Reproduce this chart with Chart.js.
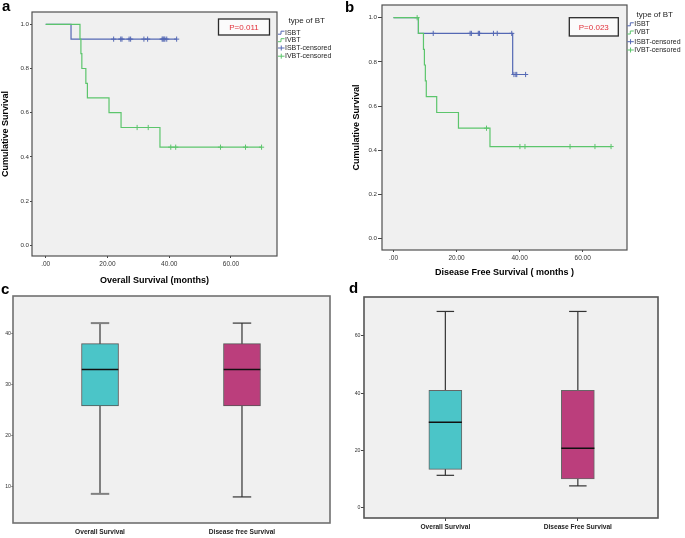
<!DOCTYPE html>
<html><head><meta charset="utf-8">
<script src="https://cdn.jsdelivr.net/npm/chart.js@4.4.1/dist/chart.umd.min.js"></script>
<style>
html,body{margin:0;padding:0;background:#fff;width:685px;height:538px;overflow:hidden;position:relative}
canvas{position:absolute}
.lbl{position:absolute;font-weight:bold;font-family:"Liberation Sans",Arial,sans-serif;font-size:15px;line-height:15px;color:#000}
</style></head><body>
<canvas id="ca" width="340" height="292" style="left:0;top:0"></canvas>
<canvas id="cb" width="345" height="282" style="left:340px;top:0"></canvas>
<canvas id="cc" width="340" height="262" style="left:0;top:276px"></canvas>
<canvas id="cd" width="345" height="262" style="left:340px;top:276px"></canvas>
<div class="lbl" style="left:2px;top:-2px">a</div>
<div class="lbl" style="left:345px;top:-1px">b</div>
<div class="lbl" style="left:1px;top:281px">c</div>
<div class="lbl" style="left:349px;top:280px">d</div>
<script>
// ---------- DATA ----------
// Kaplan-Meier tick labels
const kmXTicks = [0, 20, 40, 60];
const kmYTicks = [0, 0.2, 0.4, 0.6, 0.8, 1.0];
const legendLabels = ['ISBT', 'IVBT', 'ISBT-censored', 'IVBT-censored'];

// Panel a: Overall survival (months)
const a_isbtTime = [0, 8.2, 42.4];
const a_isbtSurv = [1, 0.933, 0.933];
const a_isbtCens = [22.0, 24.3, 24.7, 27.0, 27.5, 31.8, 33.0, 37.7, 38.0, 38.3, 38.6, 39.2, 42.4];
const a_ivbtTime = [0, 11.1, 11.4, 11.7, 13.0, 13.5, 20.5, 24.4, 37.0, 69.9];
const a_ivbtSurv = [1, 0.933, 0.867, 0.8, 0.733, 0.667, 0.6, 0.533, 0.444, 0.444];
const a_ivbtCens = [29.6, 33.2, 40.5, 42.1, 56.6, 64.7, 69.9];
const a_pValue = 'P=0.011';

// Panel b: Disease free survival (months)
const b_isbtTime = [0, 7.9, 37.8, 41.9];
const b_isbtSurv = [1, 0.929, 0.743, 0.743];
const b_isbtCens = [12.6, 24.3, 24.7, 26.9, 27.3, 31.7, 32.9, 37.5, 38.2, 38.8, 39.1, 41.9];
const b_ivbtTime = [0, 7.9, 9.5, 9.8, 10.1, 10.4, 13.7, 20.6, 30.6, 69.0];
const b_ivbtSurv = [1, 0.929, 0.857, 0.786, 0.714, 0.643, 0.571, 0.5, 0.417, 0.417];
const b_ivbtCens = [7.5, 29.5, 40.1, 41.7, 56.0, 63.9, 69.0];
const b_pValue = 'P=0.023';

// Panel c: box plot (Overall Survival months)
const c_cats = ['Overall Survival', 'Disease free Survival'];
const c_min = [8.6, 8.0];
const c_q1  = [25.8, 25.8];
const c_med = [32.9, 32.9];
const c_q3  = [38.0, 38.0];
const c_max = [42.0, 42.0];
const c_yTicks = [10, 20, 30, 40];

// Panel d: box plot (Disease Free Survival months)
const d_cats = ['Overall Survival', 'Disease Free Survival'];
const d_min = [11.2, 7.5];
const d_q1  = [13.3, 9.9];
const d_med = [29.8, 20.7];
const d_q3  = [41.0, 41.0];
const d_max = [68.6, 68.6];
const d_yTicks = [0, 20, 40, 60];

// ---------- STYLE / HELPERS ----------
const FONT = '"Liberation Sans", Arial, sans-serif';
Chart.defaults.font.family = FONT;
Chart.defaults.animation = false;
const BLUE = '#5468b4', GREEN = '#5cc56c';
const TEAL = '#4bc5c8', MAGENTA = '#bb3e7c';

function survAt(t, times, survs){ let s = survs[0]; for (let i=0;i<times.length;i++){ if (times[i] <= t) s = survs[i]; } return s; }
function stepDS(times, survs, color){
  return {data: times.map((t,i)=>({x:t,y:survs[i]})), borderColor:color, borderWidth:1.2, stepped:true, pointRadius:0, fill:false};
}
function censDS(cens, times, survs, color){
  return {data: cens.map(t=>({x:t,y:survAt(t,times,survs)})), showLine:false, pointStyle:'cross', pointRadius:2.6, borderColor:color, backgroundColor:color, borderWidth:1};
}

const framePlugin = {
  id:'frame',
  beforeDraw(chart, args, o){
    const {ctx, chartArea:a} = chart; ctx.save();
    ctx.fillStyle = o.bg; ctx.fillRect(a.left, a.top, a.right-a.left, a.bottom-a.top); ctx.restore();
  },
  afterDraw(chart, args, o){
    const {ctx, chartArea:a} = chart; ctx.save();
    ctx.strokeStyle = o.color; ctx.lineWidth = o.width;
    ctx.strokeRect(a.left, a.top, a.right-a.left, a.bottom-a.top); ctx.restore();
  }
};

const kmExtras = {
  id:'kmExtras',
  afterDraw(chart, args, o){
    const ctx = chart.ctx; ctx.save();
    const b = o.box;
    ctx.fillStyle = '#fbfbfb'; ctx.fillRect(b[0], b[1], b[2], b[3]);
    ctx.strokeStyle = '#2b2b2b'; ctx.lineWidth = 1.3; ctx.strokeRect(b[0], b[1], b[2], b[3]);
    ctx.fillStyle = '#e2313b'; ctx.font = '8px ' + FONT; ctx.textAlign = 'center'; ctx.textBaseline = 'middle';
    ctx.fillText(o.pText, b[0] + b[2]/2, b[1] + b[3]/2 + 0.5);
    const L = o.legend;
    ctx.fillStyle = '#222'; ctx.font = '8px ' + FONT;
    ctx.fillText('type of BT', L.titleX, L.titleY);
    ctx.textAlign = 'left'; ctx.font = '7px ' + FONT;
    legendLabels.forEach((lab, i) => {
      const y = L.ys[i], x = L.x, color = i % 2 === 0 ? BLUE : GREEN;
      ctx.strokeStyle = color; ctx.lineWidth = 1; ctx.beginPath();
      if (i < 2){ ctx.moveTo(x, y+1.5); ctx.lineTo(x+3, y+1.5); ctx.lineTo(x+3, y-1.5); ctx.lineTo(x+6.5, y-1.5); }
      else { ctx.moveTo(x, y); ctx.lineTo(x+6.5, y); ctx.moveTo(x+3.25, y-2.5); ctx.lineTo(x+3.25, y+2.5); }
      ctx.stroke();
      ctx.fillStyle = '#222'; ctx.fillText(lab, x+7, y);
    });
    ctx.restore();
  }
};

function kmChart(id, d){
  return new Chart(document.getElementById(id), {
    type:'line',
    data:{datasets:[
      censDS(d.ivbtCens, d.ivbtTime, d.ivbtSurv, GREEN),
      censDS(d.isbtCens, d.isbtTime, d.isbtSurv, BLUE),
      stepDS(d.ivbtTime, d.ivbtSurv, GREEN),
      stepDS(d.isbtTime, d.isbtSurv, BLUE)
    ]},
    options:{
      responsive:false, animation:false,
      layout:{padding:d.pad},
      plugins:{legend:{display:false}, tooltip:{enabled:false},
        frame:{bg:'#f0f0f0', color:'#505050', width:1.2},
        kmExtras:{box:d.box, pText:d.pText, legend:d.legend}},
      scales:{
        x:{type:'linear', min:d.xr[0], max:d.xr[1],
          afterBuildTicks:s=>{ s.ticks = kmXTicks.map(v=>({value:v})); },
          afterFit:s=>{ s.height = d.xH; },
          ticks:{callback:v=> v===0 ? '.00' : v.toFixed(2), font:{size:6.5}, color:'#333', padding:2, maxRotation:0, autoSkip:false},
          grid:{drawOnChartArea:false, drawTicks:true, tickLength:2, color:'#444'},
          border:{display:false},
          title:{display:true, text:d.xTitle, font:{size:9, weight:'bold'}, color:'#000', padding:{top:0, bottom:d.xTitlePad}}
        },
        y:{type:'linear', min:d.yr[0], max:d.yr[1],
          afterBuildTicks:s=>{ s.ticks = kmYTicks.map(v=>({value:v})); },
          afterFit:s=>{ s.width = d.yW; },
          ticks:{callback:v=>v.toFixed(1), font:{size:6.2}, color:'#333', padding:1, autoSkip:false},
          grid:{drawOnChartArea:false, drawTicks:true, tickLength:d.yTick, color:'#444'},
          border:{display:false},
          title:{display:true, text:'Cumulative Survival', font:{size:9, weight:'bold'}, color:'#000', padding:{top:d.yTitlePad, bottom:0}}
        }
      }
    },
    plugins:[framePlugin, kmExtras]
  });
}

kmChart('ca', {
  isbtTime:a_isbtTime, isbtSurv:a_isbtSurv, isbtCens:a_isbtCens,
  ivbtTime:a_ivbtTime, ivbtSurv:a_ivbtSurv, ivbtCens:a_ivbtCens,
  pad:{left:0, top:12, right:63, bottom:0}, xH:36, yW:32,
  xr:[-4.44, 74.9], yr:[-0.0484, 1.0557], yTick:2,
  xTitle:'Overall Survival (months)', xTitlePad:5.6, yTitlePad:0.6,
  box:[218.5, 19, 51, 16], pText:a_pValue,
  legend:{titleX:306.7, titleY:20.7, x:278, ys:[32.7, 40.2, 48, 56.2]}
});
kmChart('cb', {
  isbtTime:b_isbtTime, isbtSurv:b_isbtSurv, isbtCens:b_isbtCens,
  ivbtTime:b_ivbtTime, ivbtSurv:b_ivbtSurv, ivbtCens:b_ivbtCens,
  pad:{left:0, top:5, right:58, bottom:0}, xH:32, yW:42,
  xr:[-3.65, 74.06], yr:[-0.0511, 1.0575], yTick:4,
  xTitle:'Disease Free Survival ( months )', xTitlePad:3.6, yTitlePad:11.3,
  box:[229.3, 17.7, 49, 18.3], pText:b_pValue,
  legend:{titleX:314.7, titleY:15, x:287.3, ys:[24.3, 32.5, 41.7, 50]}
});

function boxChart(id, d){
  const n = d.cats.length;
  const ds = [];
  for (let i=0;i<n;i++){
    ds.push({type:'line', data:[{x:i-d.boxHalf, y:d.med[i]}, {x:i+d.boxHalf, y:d.med[i]}], borderColor:'#111', borderWidth:1.5, pointRadius:0});
  }
  ds.push({type:'bar', data:d.cats.map((c,i)=>({x:i, y:[d.q1[i], d.q3[i]]})), backgroundColor:d.colors, borderColor:d.boxBorder, borderWidth:1, borderSkipped:false, barThickness:d.barPx});
  for (let i=0;i<n;i++){
    ds.push({type:'line', data:[{x:i-d.capHalf, y:d.max[i]}, {x:i+d.capHalf, y:d.max[i]}], borderColor:d.whColor[i], borderWidth:d.whWidth[i], pointRadius:0});
    ds.push({type:'line', data:[{x:i-d.capHalf, y:d.min[i]}, {x:i+d.capHalf, y:d.min[i]}], borderColor:d.whColor[i], borderWidth:d.whWidth[i], pointRadius:0});
    ds.push({type:'line', data:[{x:i, y:d.min[i]}, {x:i, y:d.max[i]}], borderColor:d.whColor[i], borderWidth:d.whWidth[i], pointRadius:0});
  }
  return new Chart(document.getElementById(id), {
    type:'bar',
    data:{datasets:ds},
    options:{
      responsive:false, animation:false,
      layout:{padding:d.pad},
      plugins:{legend:{display:false}, tooltip:{enabled:false}, frame:{bg:'#f0f0f0', color:d.frameColor, width:1.6}},
      scales:{
        x:{type:'linear', min:d.xr[0], max:d.xr[1], offset:false,
          afterBuildTicks:s=>{ s.ticks = d.cats.map((c,i)=>({value:i})); },
          afterFit:s=>{ s.height = d.xH; },
          ticks:{callback:(v,i)=>d.cats[i], font:{size:6.6, weight:'bold'}, color:'#222', padding:d.xPad, maxRotation:0, autoSkip:false},
          grid:{drawOnChartArea:false, offset:false, drawTicks:d.xTickLen>0, tickLength:d.xTickLen, color:'#444'},
          border:{display:false}
        },
        y:{type:'linear', min:d.yr[0], max:d.yr[1],
          afterBuildTicks:s=>{ s.ticks = d.yTicks.map(v=>({value:v})); },
          afterFit:s=>{ s.width = d.yW; },
          ticks:{font:{size:5.2}, color:'#333', padding:0.5, autoSkip:false},
          grid:{drawOnChartArea:false, drawTicks:true, tickLength:d.yTickLen, color:'#444'},
          border:{display:false}
        }
      }
    },
    plugins:[framePlugin]
  });
}

boxChart('cc', {
  cats:c_cats, min:c_min, q1:c_q1, med:c_med, q3:c_q3, max:c_max, yTicks:c_yTicks,
  pad:{left:0, top:20, right:10, bottom:0}, xH:15, yW:13,
  xr:[-0.613, 1.62], yr:[2.9, 47.3],
  barPx:37, boxHalf:0.129, capHalf:0.065,
  colors:[TEAL, MAGENTA], boxBorder:'#555',
  whColor:['#808080', '#333'], whWidth:[2, 1.2],
  frameColor:'#707070', xPad:5, xTickLen:0, yTickLen:1.5
});
boxChart('cd', {
  cats:d_cats, min:d_min, q1:d_q1, med:d_med, q3:d_q3, max:d_max, yTicks:d_yTicks,
  pad:{left:0, top:21, right:27, bottom:0}, xH:20, yW:24,
  xr:[-0.614, 1.605], yr:[-3.75, 73.66],
  barPx:33, boxHalf:0.125, capHalf:0.066,
  colors:[TEAL, MAGENTA], boxBorder:'#666',
  whColor:['#333', '#333'], whWidth:[1.2, 1.2],
  frameColor:'#555', xPad:2, xTickLen:3, yTickLen:3
});
</script>
</body></html>
